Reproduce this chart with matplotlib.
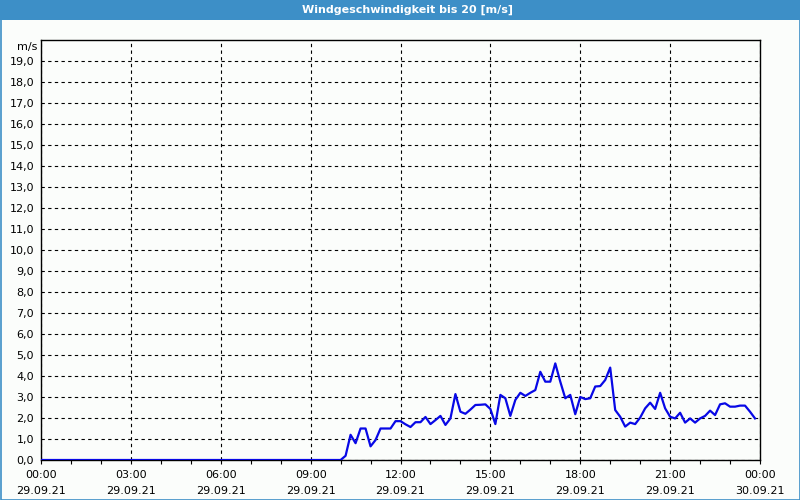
import numpy as np
import matplotlib
matplotlib.use("Agg")
import matplotlib.pyplot as plt
from matplotlib.patches import Rectangle

# wind speed (m/s), 10-minute values from 29.09.21 00:00 to 23:50
speed_night = [
    0.0, 0.0, 0.0, 0.0, 0.0, 0.0, 0.0, 0.0, 0.0, 0.0, 0.0, 0.0,
    0.0, 0.0, 0.0, 0.0, 0.0, 0.0, 0.0, 0.0, 0.0, 0.0, 0.0, 0.0,
    0.0, 0.0, 0.0, 0.0, 0.0, 0.0, 0.0, 0.0, 0.0, 0.0, 0.0, 0.0,
    0.0, 0.0, 0.0, 0.0, 0.0, 0.0, 0.0, 0.0, 0.0, 0.0, 0.0, 0.0,
    0.0, 0.0, 0.0, 0.0, 0.0, 0.0, 0.0, 0.0, 0.0, 0.0, 0.0, 0.0,
]
speed_day = [
    0.0, 0.2, 1.2, 0.8, 1.5, 1.5, 0.65, 0.95, 1.5, 1.5, 1.5, 1.85,
    1.85, 1.7, 1.57, 1.8, 1.8, 2.05, 1.71, 1.9, 2.1, 1.67, 1.98, 3.14,
    2.3, 2.2, 2.4, 2.62, 2.63, 2.65, 2.43, 1.71, 3.1, 2.94, 2.1, 2.86,
    3.2, 3.05, 3.2, 3.33, 4.2, 3.73, 3.73, 4.6, 3.73, 2.94, 3.1, 2.18,
    3.0, 2.9, 2.94, 3.5, 3.52, 3.81, 4.4, 2.38, 2.06, 1.59, 1.78, 1.71,
    2.02, 2.46, 2.73, 2.43, 3.2, 2.46, 2.06, 1.98, 2.25, 1.78, 1.98, 1.78,
    1.98, 2.1, 2.35, 2.14, 2.65, 2.7, 2.54, 2.54, 2.59, 2.59, 2.3, 1.98,
]
speed = speed_night + speed_day
time_hours = np.arange(len(speed)) / 6.0

x_tick_hours = [0, 3, 6, 9, 12, 15, 18, 21, 24]
x_tick_labels = ["00:00\n29.09.21", "03:00\n29.09.21", "06:00\n29.09.21",
                 "09:00\n29.09.21", "12:00\n29.09.21", "15:00\n29.09.21",
                 "18:00\n29.09.21", "21:00\n29.09.21", "00:00\n30.09.21"]
y_ticks = list(range(0, 20))
y_tick_labels = [f"{v},0" for v in y_ticks]

title = "Windgeschwindigkeit bis 20 [m/s]"
unit = "m/s"

bg = "#fbfdfb"
blue_bar = "#3d8fc7"

fig = plt.figure(figsize=(8, 5), dpi=100, facecolor=bg)
plt.rcParams['font.family'] = ['DejaVu Sans']

# title bar and border
fig.patches.append(Rectangle((0, 1 - 20 / 500), 1, 20 / 500, transform=fig.transFigure,
                             facecolor=blue_bar, edgecolor='none', zorder=0))
fig.patches.append(Rectangle((0.5 / 800, 0.5 / 500), 1 - 1 / 800, 1 - 1 / 500,
                             transform=fig.transFigure, facecolor='none',
                             edgecolor=blue_bar, linewidth=1.2, zorder=5))
fig.text(0.51, 1 - 10 / 500, title, color='white', fontsize=8, fontweight='bold',
         ha='center', va='center')

ax = fig.add_axes([41 / 800, 40 / 500, 719 / 800, 420 / 500])
ax.set_facecolor(bg)
ax.plot(time_hours, speed, color='#0808e6', linewidth=1.6, zorder=3)

ax.set_xlim(0, 24)
ax.set_ylim(0, 20)
ax.set_xticks(x_tick_hours)
ax.set_xticklabels(x_tick_labels, linespacing=1.65)
ax.set_xticks(np.arange(0, 25, 1), minor=True)
ax.set_yticks(y_ticks)
ax.set_yticklabels(y_tick_labels)

ax.tick_params(axis='x', which='both', direction='out', length=3, width=0.8,
               labelsize=8, pad=4.5, colors='black')
ax.tick_params(axis='y', which='both', length=0, labelsize=8, pad=5)

ax.grid(True, which='major', color='black', linestyle=(0, (3, 3)), linewidth=0.8)
for s in ax.spines.values():
    s.set_color('black')
    s.set_linewidth(1.0)

fig.text(37 / 800, 1 - 47 / 500, unit, fontsize=8, ha='right', va='center')

fig.savefig("out.png", dpi=100, facecolor=bg)
